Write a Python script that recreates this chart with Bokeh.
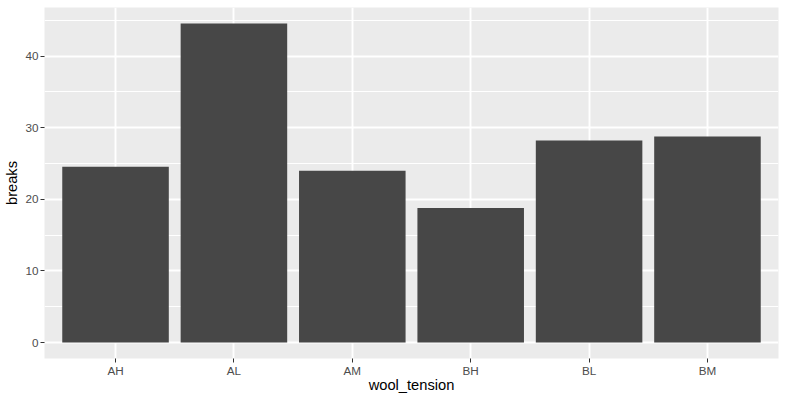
from bokeh.plotting import figure
from bokeh.models import Range1d, FixedTicker
from bokeh.embed import file_html
from bokeh.resources import INLINE

# Data
categories = ["AH", "AL", "AM", "BH", "BL", "BM"]
breaks = [24.56, 44.56, 24.00, 18.78, 28.22, 28.78]
y_ticks = [0, 10, 20, 30, 40]
y_minor = [5, 15, 25, 35, 45]

xs = list(range(1, len(categories) + 1))
ymax = max(breaks)
pad = 0.05 * ymax
y0, y1 = -pad, ymax + pad

W, H = 786, 400
BL, BR, BT, BB = 44, 8, 7, 42

p = figure(width=W, height=H, output_backend="svg", toolbar_location=None,
           x_range=Range1d(0.4, len(categories) + 0.6),
           y_range=Range1d(y0, y1),
           min_border_left=BL, min_border_right=BR, min_border_top=BT, min_border_bottom=BB)

p.background_fill_color = "#EBEBEB"
p.border_fill_color = "white"
p.outline_line_color = None

p.vbar(x=xs, top=breaks, bottom=0, width=0.9, fill_color="#474747", line_color=None)

# axes
p.xaxis.ticker = FixedTicker(ticks=xs)
p.xaxis.major_label_overrides = {x: c for x, c in zip(xs, categories)}
p.yaxis.ticker = FixedTicker(ticks=y_ticks, minor_ticks=y_minor)

for ax in (p.xaxis[0], p.yaxis[0]):
    ax.axis_line_color = None
    ax.major_tick_line_color = "#333333"
    ax.major_tick_line_width = 1
    ax.major_tick_in = 0
    ax.major_tick_out = 4
    ax.minor_tick_line_color = None
    ax.major_label_text_font = "Liberation Sans"
    ax.major_label_text_font_size = "11.7px"
    ax.major_label_text_color = "#4D4D4D"
    ax.axis_label_text_font = "Liberation Sans"
    ax.axis_label_text_font_size = "14.7px"
    ax.axis_label_text_font_style = "normal"
    ax.axis_label_text_color = "black"
p.xaxis.major_label_standoff = 1
p.yaxis.major_label_standoff = 2
p.xaxis.axis_label_standoff = -3
p.yaxis.axis_label_standoff = 2
p.xaxis.axis_label = "wool_tension"
p.yaxis.axis_label = "breaks"

# grids
p.xgrid.grid_line_color = "white"
p.xgrid.grid_line_width = 1.9
p.ygrid.grid_line_color = "white"
p.ygrid.grid_line_width = 1.9
p.ygrid.minor_grid_line_color = "white"
p.ygrid.minor_grid_line_width = 1
p.xgrid.level = "underlay"
p.ygrid.level = "underlay"

open("out.html", "w").write(file_html(p, INLINE))
